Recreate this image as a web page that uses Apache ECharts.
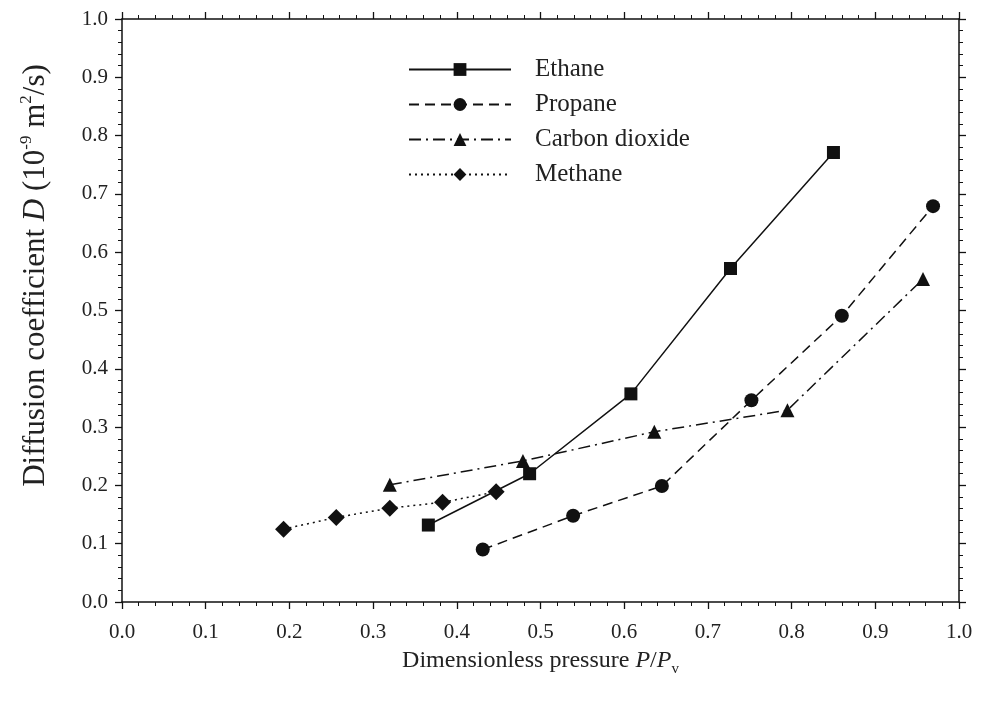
<!DOCTYPE html>
<html>
<head>
<meta charset="utf-8">
<script src="https://cdn.jsdelivr.net/npm/echarts@6/dist/echarts.min.js"></script>
<style>html,body{margin:0;padding:0;background:#fff;}#c{width:982px;height:713px;}</style>
</head>
<body>
<div id="c"></div>
<script>
const ethaneX = [0.366, 0.487, 0.608, 0.727, 0.850];
const ethaneY = [0.132, 0.220, 0.357, 0.572, 0.771];
const propaneX = [0.431, 0.539, 0.645, 0.752, 0.860, 0.969];
const propaneY = [0.090, 0.148, 0.199, 0.346, 0.491, 0.679];
const co2X = [0.320, 0.479, 0.636, 0.795, 0.957];
const co2Y = [0.201, 0.242, 0.292, 0.329, 0.554];
const methaneX = [0.193, 0.256, 0.320, 0.383, 0.447];
const methaneY = [0.125, 0.145, 0.161, 0.171, 0.189];
const seriesNames = ['Ethane', 'Propane', 'Carbon dioxide', 'Methane'];

const pairs = (xs, ys) => xs.map((x, i) => [x, ys[i]]);
const F = 'Liberation Serif';
const chart = echarts.init(document.getElementById('c'));
const axisBase = () => ({
  type: 'value', min: 0, max: 1, interval: 0.1,
  axisLine: {show: true, onZero: false, lineStyle: {color: '#111', width: 1.5}},
  axisTick: {show: true, inside: false, length: 7, lineStyle: {color: '#111', width: 1.3}},
  minorTick: {show: true, splitNumber: 5, length: 4, lineStyle: {color: '#111', width: 1}},
  splitLine: {show: false},
  axisLabel: {fontFamily: F, fontSize: 21, color: '#222', margin: 14, formatter: v => v.toFixed(1)}
});
const lineSeries = (name, data, symbol, size, ltype) => ({
  name, type: 'line', data, symbol, symbolSize: size,
  itemStyle: {color: '#111'},
  lineStyle: {color: '#111', width: 1.5, type: ltype},
  emphasis: {disabled: true}
});
const xMain = Object.assign(axisBase(), {
  position: 'bottom',
  name: '{n|Dimensionless pressure }{i|P}{n|/}{i|P}{s|v}',
  nameLocation: 'middle', nameGap: 47,
  nameTextStyle: {rich: {
    n: {fontFamily: F, fontSize: 24, color: '#222'},
    i: {fontFamily: F, fontSize: 24, fontStyle: 'italic', color: '#222'},
    s: {fontFamily: F, fontSize: 15, color: '#222', verticalAlign: 'bottom', padding: [0, 0, -4, 0]}
  }}
});
xMain.axisLabel.margin = 20;
const yMain = Object.assign(axisBase(), {
  position: 'left',
  name: '{n|Diffusion coefficient }{i|D}{n| (10}{s|-9}{n| m}{s|2}{n|/s)}',
  nameLocation: 'middle', nameGap: 71, nameRotate: 90,
  nameTextStyle: {padding: [0, 0, 0, 70], rich: {
    n: {fontFamily: F, fontSize: 31, color: '#222'},
    i: {fontFamily: F, fontSize: 31, fontStyle: 'italic', color: '#222'},
    s: {fontFamily: F, fontSize: 17, color: '#222', verticalAlign: 'top', padding: [-2, 0, 0, 0]}
  }}
});
const xTop = Object.assign(axisBase(), {position: 'top', axisLabel: {show: false}});
const yRight = Object.assign(axisBase(), {position: 'right', axisLabel: {show: false}});
chart.setOption({
  animation: false,
  backgroundColor: '#fff',
  grid: {left: 122, right: 23, top: 19, bottom: 111},
  legend: {
    left: 403, top: 52, orient: 'vertical',
    itemWidth: 102, itemHeight: 16, itemGap: 10,
    textStyle: {fontFamily: F, fontSize: 25, color: '#222', padding: [0, 0, 0, 19]},
    data: seriesNames
  },
  xAxis: [xMain, xTop],
  yAxis: [yMain, yRight],
  series: [
    lineSeries('Ethane', pairs(ethaneX, ethaneY), 'rect', 13, 'solid'),
    lineSeries('Propane', pairs(propaneX, propaneY), 'circle', 14, [10, 6]),
    lineSeries('Carbon dioxide', pairs(co2X, co2Y), 'triangle', 14, [12, 5, 2, 5]),
    lineSeries('Methane', pairs(methaneX, methaneY), 'diamond', 17, [2, 4])
  ]
});
</script>
</body>
</html>
